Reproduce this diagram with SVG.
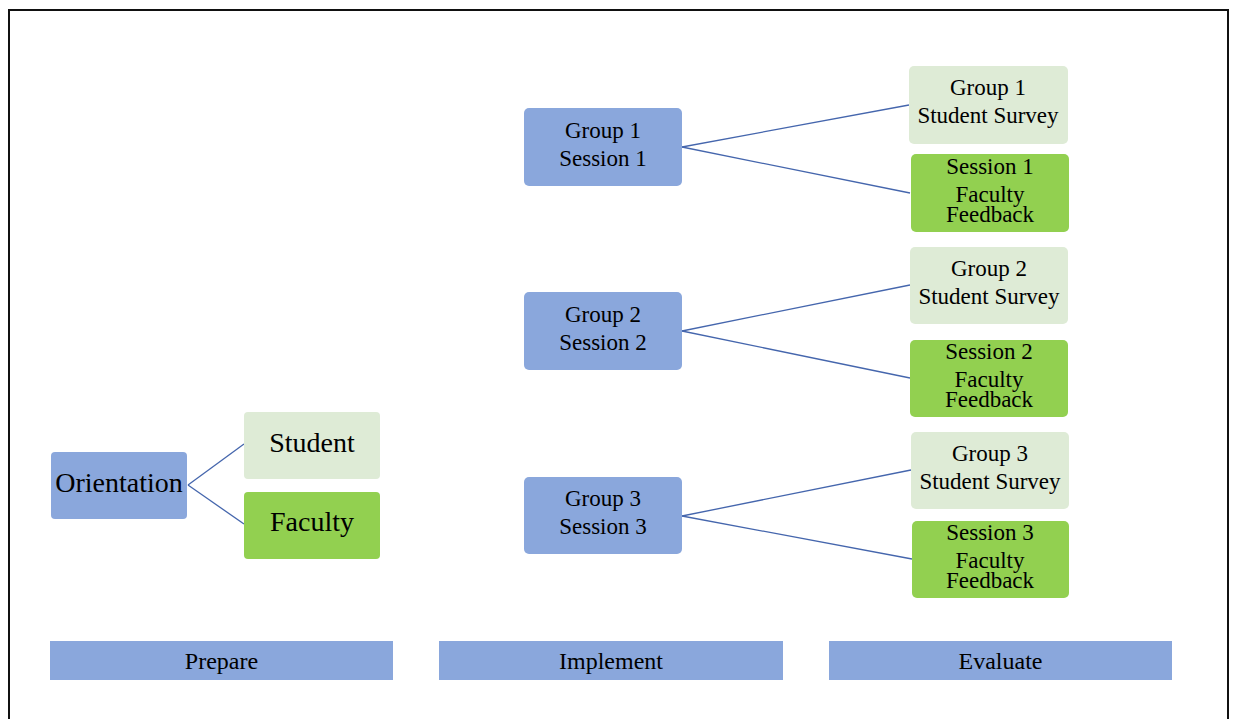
<svg xmlns="http://www.w3.org/2000/svg" width="1235" height="719" viewBox="0 0 1235 719">
  <style>
    .frame { fill: none; stroke: #111; stroke-width: 2; }
    .blue { fill: #8aa7dc; }
    .pale { fill: #deebd6; }
    .green { fill: #92d050; }
    .lbl { font-family: "Liberation Serif", "Times New Roman", serif; fill: #000; text-anchor: middle; }
    .big { font-size: 28px; }
    .mid { font-size: 23px; }
    .bar { font-size: 24px; }
    .conn line { stroke: #4566ad; stroke-width: 1.3; fill: none; }
  </style>
  <rect width="1235" height="719" fill="#fff"/>
  <rect class="frame" x="9" y="10" width="1219" height="730"/>

  <!-- connectors -->
  <g id="connectors" class="conn">
    <line x1="188" y1="485" x2="244" y2="444"/>
    <line x1="188" y1="485" x2="244" y2="524"/>
    <line x1="682" y1="147" x2="909" y2="105"/>
    <line x1="682" y1="147" x2="910" y2="193"/>
    <line x1="682" y1="331" x2="910" y2="285"/>
    <line x1="682" y1="331" x2="910" y2="378"/>
    <line x1="682" y1="516" x2="911" y2="470"/>
    <line x1="682" y1="516" x2="912" y2="559"/>
  </g>

  <!-- prepare column -->
  <g id="orientation">
    <rect class="blue" x="51" y="452" width="136" height="67" rx="4"/>
    <text class="lbl big" x="119" y="492">Orientation</text>
  </g>
  <g id="student">
    <rect class="pale" x="244" y="412" width="136" height="67" rx="4"/>
    <text class="lbl big" x="312" y="452">Student</text>
  </g>
  <g id="faculty">
    <rect class="green" x="244" y="492" width="136" height="67" rx="4"/>
    <text class="lbl big" x="312" y="531">Faculty</text>
  </g>

  <!-- implement column -->
  <g id="session1">
    <rect class="blue" x="524" y="108" width="158" height="78" rx="5"/>
    <text class="lbl mid" x="603" y="138">Group 1</text>
    <text class="lbl mid" x="603" y="166">Session 1</text>
  </g>
  <g id="session2">
    <rect class="blue" x="524" y="292" width="158" height="78" rx="5"/>
    <text class="lbl mid" x="603" y="322">Group 2</text>
    <text class="lbl mid" x="603" y="350">Session 2</text>
  </g>
  <g id="session3">
    <rect class="blue" x="524" y="477" width="158" height="77" rx="5"/>
    <text class="lbl mid" x="603" y="506">Group 3</text>
    <text class="lbl mid" x="603" y="534">Session 3</text>
  </g>

  <!-- evaluate column -->
  <g id="survey1">
    <rect class="pale" x="909" y="66" width="159" height="78" rx="5"/>
    <text class="lbl mid" x="988" y="95">Group 1</text>
    <text class="lbl mid" x="988" y="123">Student Survey</text>
  </g>
  <g id="feedback1">
    <rect class="green" x="911" y="154" width="158" height="78" rx="5"/>
    <text class="lbl mid" x="990" y="174">Session 1</text>
    <text class="lbl mid" x="990" y="202">Faculty</text>
    <text class="lbl mid" x="990" y="222">Feedback</text>
  </g>
  <g id="survey2">
    <rect class="pale" x="910" y="247" width="158" height="77" rx="5"/>
    <text class="lbl mid" x="989" y="276">Group 2</text>
    <text class="lbl mid" x="989" y="304">Student Survey</text>
  </g>
  <g id="feedback2">
    <rect class="green" x="910" y="340" width="158" height="77" rx="5"/>
    <text class="lbl mid" x="989" y="359">Session 2</text>
    <text class="lbl mid" x="989" y="387">Faculty</text>
    <text class="lbl mid" x="989" y="407">Feedback</text>
  </g>
  <g id="survey3">
    <rect class="pale" x="911" y="432" width="158" height="77" rx="5"/>
    <text class="lbl mid" x="990" y="461">Group 3</text>
    <text class="lbl mid" x="990" y="489">Student Survey</text>
  </g>
  <g id="feedback3">
    <rect class="green" x="912" y="521" width="157" height="77" rx="5"/>
    <text class="lbl mid" x="990" y="540">Session 3</text>
    <text class="lbl mid" x="990" y="568">Faculty</text>
    <text class="lbl mid" x="990" y="588">Feedback</text>
  </g>

  <!-- phase bars -->
  <g id="prepare">
    <rect class="blue" x="50" y="641" width="343" height="39"/>
    <text class="lbl bar" x="221.5" y="669">Prepare</text>
  </g>
  <g id="implement">
    <rect class="blue" x="439" y="641" width="344" height="39"/>
    <text class="lbl bar" x="611" y="669">Implement</text>
  </g>
  <g id="evaluate">
    <rect class="blue" x="829" y="641" width="343" height="39"/>
    <text class="lbl bar" x="1000.5" y="669">Evaluate</text>
  </g>
</svg>
